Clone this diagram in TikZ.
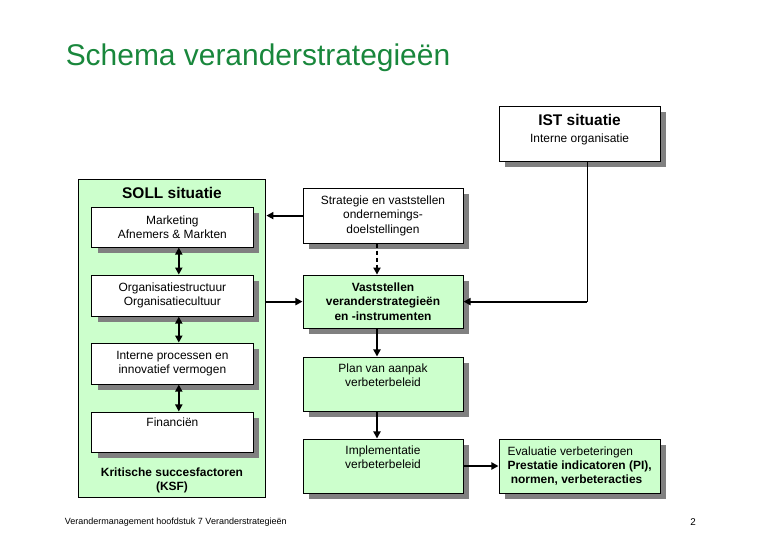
\documentclass[tikz,border=0pt]{standalone}
\usepackage{fontspec}
\setmainfont{Liberation Sans}
\usetikzlibrary{arrows.meta,positioning,shadows}
\definecolor{titlegreen}{RGB}{25,135,60}
\definecolor{boxgreen}{RGB}{204,255,204}
\definecolor{shadowgray}{RGB}{128,128,128}

\begin{document}
\begin{tikzpicture}[
    box/.style={draw, line width=0.7pt, fill=white, minimum width=4.03cm, align=center, inner sep=2pt,
        font=\fontsize{8.5}{10.2}\selectfont,
        drop shadow={shadow xshift=0.15cm, shadow yshift=-0.15cm, fill=shadowgray, opacity=1}},
    gbox/.style={box, fill=boxgreen},
    arr/.style={-{Triangle[length=5pt,width=5pt]}, line width=1.4pt},
    dbl/.style={{Triangle[length=5pt,width=5pt]}-{Triangle[length=5pt,width=5pt]}, line width=1.4pt},
    lbl/.style={font=\bfseries\fontsize{8.5}{10.6}\selectfont, align=center}
]
\useasboundingbox (0,0) rectangle (19.5,-13.5);

% titel
\node[anchor=west, text=titlegreen, font=\fontsize{21.3}{25}\selectfont] (title) at (1.52,-1.45) {Schema veranderstrategieën};

% IST
\node[box, minimum height=1.375cm] (ist) at (14.49,-3.34) {{\bfseries\fontsize{11}{12}\selectfont IST situatie}\\[1.5pt] Interne organisatie\\[-3pt]};

% SOLL kolom
\node[draw, line width=0.7pt, fill=boxgreen, minimum width=4.675cm, minimum height=7.95cm] (soll) at (4.31,-8.45) {};
\node[lbl, font=\bfseries\fontsize{11}{13}\selectfont] (solltitle) at (4.3,-4.83) {SOLL situatie};
\node[box, minimum height=1.0cm] (mkt) at (4.31,-5.675) {Marketing\\Afnemers \& Markten};
\node[box, minimum height=1.025cm] (org) at (4.31,-7.39) {Organisatiestructuur\\Organisatiecultuur};
\node[box, minimum height=1.025cm] (proc) at (4.31,-9.09) {Interne processen en\\innovatief vermogen};
\node[box, minimum height=1.0cm] (fin) at (4.31,-10.8) {Financiën\\[4pt]};
\node[lbl] (ksf) at (4.3,-12.01) {Kritische succesfactoren\\(KSF)};

% middenkolom
\node[box, minimum height=1.375cm, minimum width=4.0cm] (strat) at (9.575,-5.39) {Strategie en vaststellen\\ondernemings-\\doelstellingen};
\node[gbox, minimum height=1.325cm, minimum width=4.0cm, font=\bfseries\fontsize{8.5}{10.2}\selectfont] (vast) at (9.575,-7.54) {Vaststellen\\veranderstrategieën\\en -instrumenten};
\node[gbox, minimum height=1.35cm, minimum width=4.0cm] (plan) at (9.575,-9.6) {Plan van aanpak\\verbeterbeleid\\[2.6pt]};
\node[gbox, minimum height=1.35cm, minimum width=4.0cm] (impl) at (9.575,-11.65) {Implementatie\\verbeterbeleid\\[2.6pt]};
\node[gbox, minimum height=1.35cm, align=left] (eval) at (14.49,-11.65) {Evaluatie verbeteringen\\\textbf{Prestatie indicatoren (PI),}\\\textbf{\ normen, verbeteracties}};

% voettekst
\node[anchor=west, font=\fontsize{6.4}{7}\selectfont] (foot) at (1.5,-13.05) {Verandermanagement hoofdstuk 7 Veranderstrategieën};
\node[font=\fontsize{7}{8}\selectfont] (page) at (17.33,-13.05) {2};

% verbindingen
\draw[dbl] ([xshift=0.16cm]mkt.south) -- ([xshift=0.16cm]org.north);
\draw[dbl] ([xshift=0.16cm]org.south) -- ([xshift=0.16cm]proc.north);
\draw[dbl] ([xshift=0.16cm]proc.south) -- ([xshift=0.16cm]fin.north);
\draw[arr] (strat.west) -- (strat.west -| soll.east);
\draw[arr] (soll.east |- vast.west) -- (vast.west);
\draw[arr, dash pattern=on 3pt off 2pt] ([xshift=-0.15cm]strat.south) -- ([xshift=-0.15cm]vast.north);
\coordinate (istcorner) at ([xshift=0.19cm]ist.south |- vast.east);
\draw[line width=0.8pt] ([xshift=0.19cm]ist.south) -- (istcorner);
\draw[arr] (istcorner) -- (vast.east);
\draw[arr] ([xshift=-0.15cm]vast.south) -- ([xshift=-0.15cm]plan.north);
\draw[arr] ([xshift=-0.15cm]plan.south) -- ([xshift=-0.15cm]impl.north);
\draw[arr] (impl.east) -- (eval.west);
\end{tikzpicture}
\end{document}
